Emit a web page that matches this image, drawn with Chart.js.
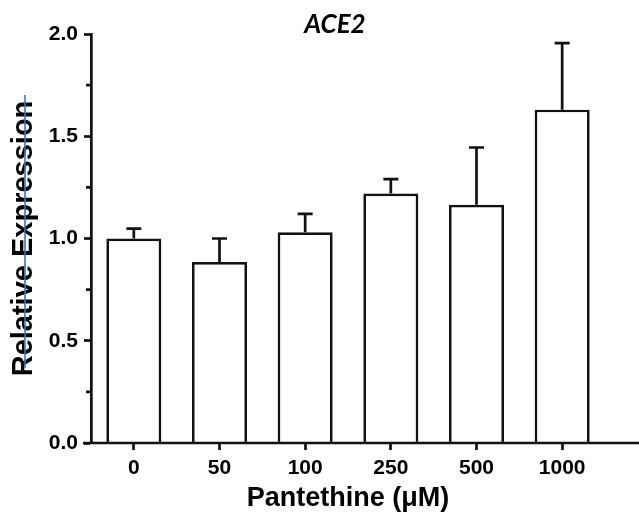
<!DOCTYPE html>
<html>
<head>
<meta charset="utf-8">
<script src="https://cdn.jsdelivr.net/npm/chart.js@4"></script>
<style>
    body { margin: 0; background: #fff; }
    #wrap { width: 639px; height: 517px; position: relative; }
</style>
</head>
<body>
<div id="wrap"><canvas id="aceChart"></canvas></div>
<script>
// Pantethine doses and ACE2 relative expression (mean + upper SEM)
const doses = ['0', '50', '100', '250', '500', '1000'];
const meanExpr = [1.00, 0.885, 1.03, 1.22, 1.165, 1.63];
const semExpr = [0.048, 0.115, 0.09, 0.07, 0.28, 0.325];
const majorTicks = [0, 0.5, 1.0, 1.5, 2.0];
const minorTicks = [0.25, 0.75, 1.25, 1.75];

const ink = '#111';
const sansBold = '"Liberation Sans", Arial, sans-serif';

// upper error bars, x axis line and minor ticks drawn on top of the bars
const extras = {
    id: 'extras',
    afterDatasetsDraw(chart) {
        const c = chart.ctx;
        const xs = chart.scales.x, ys = chart.scales.y;
        const area = chart.chartArea;
        c.save();
        c.strokeStyle = ink;
        c.lineWidth = 2.7;
        c.lineCap = 'butt';
        meanExpr.forEach((m, i) => {
            const x = xs.getPixelForValue(i);
            const yTop = ys.getPixelForValue(m);
            const yErr = ys.getPixelForValue(m + semExpr[i]);
            c.beginPath();
            c.moveTo(x, yTop);
            c.lineTo(x, yErr);
            c.moveTo(x - 7.5, yErr);
            c.lineTo(x + 7.5, yErr);
            c.stroke();
        });
        // x axis runs past the last category to the edge
        c.beginPath();
        c.moveTo(area.left - 8, area.bottom);
        c.lineTo(chart.width, area.bottom);
        c.stroke();
        // short minor ticks
        minorTicks.forEach(v => {
            const y = ys.getPixelForValue(v);
            c.beginPath();
            c.moveTo(area.left - 5, y);
            c.lineTo(area.left, y);
            c.stroke();
        });
        c.restore();
    },
    afterDraw(chart) {
        const c = chart.ctx;
        c.save();
        c.fillStyle = '#000';
        c.font = 'italic bold 26px Lato, "Open Sans", sans-serif';
        c.textAlign = 'center';
        c.textBaseline = 'alphabetic';
        c.fillText('ACE2', 335, 33);
        // thin blue rule through the y title
        c.strokeStyle = '#3b6fd4';
        c.lineWidth = 1.6;
        c.beginPath();
        c.moveTo(25, 95);
        c.lineTo(25, 368);
        c.stroke();
        c.restore();
    }
};

new Chart(document.getElementById('aceChart'), {
    type: 'bar',
    data: {
        labels: doses,
        datasets: [{
            data: meanExpr,
            backgroundColor: '#fff',
            borderColor: ink,
            borderWidth: 2.7,
            barPercentage: 0.642,
            categoryPercentage: 1.0
        }]
    },
    options: {
        responsive: true,
        maintainAspectRatio: false,
        animation: false,
        layout: { padding: { top: 34, right: 34, left: 0, bottom: 0 } },
        plugins: {
            legend: { display: false },
            tooltip: { enabled: false }
        },
        scales: {
            x: {
                offset: true,
                grid: {
                    offset: false,
                    drawOnChartArea: false,
                    drawTicks: true,
                    tickLength: 7,
                    tickWidth: 2.7,
                    tickColor: ink
                },
                border: { display: false },
                ticks: {
                    color: '#000',
                    padding: 6,
                    font: { family: sansBold, size: 21, weight: 'bold' }
                },
                title: {
                    display: true,
                    text: 'Pantethine (\u03bcM)',
                    color: '#000',
                    padding: { top: 0, bottom: 2 },
                    font: { family: sansBold, size: 27, weight: 'bold' }
                },
                afterFit(scale) { scale.height = 74; }
            },
            y: {
                min: 0,
                max: 2,
                grid: {
                    drawOnChartArea: false,
                    drawTicks: true,
                    tickLength: 7,
                    tickWidth: 2.7,
                    tickColor: ctx => majorTicks.includes(ctx.tick.value) ? ink : 'rgba(0,0,0,0)'
                },
                border: { display: true, color: ink, width: 2.7 },
                ticks: {
                    stepSize: 0.25,
                    color: '#000',
                    padding: 6,
                    font: { family: sansBold, size: 21, weight: 'bold' },
                    callback: v => majorTicks.includes(v) ? v.toFixed(1) : ''
                },
                title: {
                    display: true,
                    text: 'Relative Expression',
                    color: '#000',
                    padding: { top: 7, bottom: 0 },
                    font: { family: sansBold, size: 29, weight: 'bold' }
                },
                afterFit(scale) { scale.width = 91; }
            }
        }
    },
    plugins: [extras]
});
</script>
</body>
</html>
